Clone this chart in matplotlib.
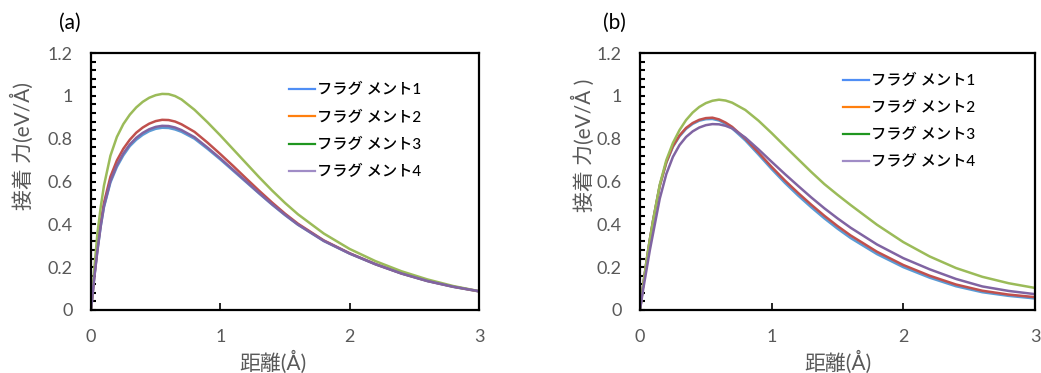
import matplotlib
matplotlib.use("Agg")
import matplotlib.pyplot as plt
from matplotlib.lines import Line2D
from matplotlib.ticker import MultipleLocator

plt.rcParams['font.family'] = ['Lato', 'Noto Sans CJK JP', 'DejaVu Sans']

# distance grid (Å)
dist = [0, 0.025, 0.05, 0.075, 0.1, 0.15, 0.2, 0.25, 0.3, 0.35, 0.4, 0.45, 0.5, 0.55, 0.6,
        0.65, 0.7, 0.8, 0.9, 1.0, 1.1, 1.2, 1.3, 1.4, 1.5, 1.6, 1.8, 2.0, 2.2, 2.4, 2.6,
        2.8, 3.0]

# panel (a) adhesion force (eV/Å)
a_frag1 = [0, 0.15, 0.28, 0.39, 0.48, 0.595, 0.668, 0.722, 0.765, 0.795, 0.818, 0.835, 0.846,
           0.851, 0.850, 0.843, 0.832, 0.800, 0.753, 0.703, 0.650, 0.597, 0.544, 0.492, 0.443,
           0.398, 0.322, 0.263, 0.213, 0.170, 0.135, 0.108, 0.087]
a_frag2 = [0, 0.155, 0.29, 0.405, 0.50, 0.622, 0.698, 0.753, 0.795, 0.828, 0.852, 0.870, 0.882,
           0.888, 0.887, 0.880, 0.867, 0.832, 0.782, 0.728, 0.672, 0.614, 0.557, 0.502, 0.450,
           0.403, 0.325, 0.265, 0.214, 0.171, 0.136, 0.109, 0.087]
a_frag3 = [0, 0.19, 0.36, 0.48, 0.58, 0.72, 0.808, 0.868, 0.912, 0.946, 0.972, 0.991, 1.003,
           1.009, 1.008, 0.999, 0.983, 0.935, 0.877, 0.815, 0.750, 0.685, 0.620, 0.558, 0.500,
           0.447, 0.357, 0.285, 0.228, 0.181, 0.143, 0.112, 0.088]
a_frag4 = [0, 0.15, 0.28, 0.392, 0.484, 0.602, 0.676, 0.731, 0.773, 0.804, 0.827, 0.844, 0.855,
           0.860, 0.859, 0.852, 0.840, 0.807, 0.759, 0.708, 0.654, 0.600, 0.546, 0.494, 0.445,
           0.399, 0.323, 0.264, 0.214, 0.171, 0.136, 0.109, 0.088]

# panel (b)
b_frag1 = [0, 0.12, 0.23, 0.33, 0.42, 0.58, 0.688, 0.762, 0.811, 0.846, 0.869, 0.884, 0.891,
           0.892, 0.885, 0.869, 0.848, 0.792, 0.726, 0.658, 0.594, 0.535, 0.480, 0.428, 0.380,
           0.336, 0.261, 0.200, 0.151, 0.111, 0.083, 0.066, 0.054]
b_frag2 = [0, 0.12, 0.23, 0.33, 0.42, 0.58, 0.69, 0.765, 0.815, 0.850, 0.873, 0.888, 0.896,
           0.898, 0.890, 0.875, 0.855, 0.800, 0.735, 0.668, 0.605, 0.547, 0.492, 0.440, 0.392,
           0.348, 0.272, 0.210, 0.160, 0.119, 0.090, 0.072, 0.060]
b_frag3 = [0, 0.12, 0.23, 0.33, 0.42, 0.585, 0.70, 0.78, 0.84, 0.887, 0.922, 0.948, 0.966,
           0.977, 0.982, 0.978, 0.968, 0.934, 0.884, 0.826, 0.765, 0.705, 0.645, 0.588, 0.538,
           0.490, 0.398, 0.317, 0.250, 0.196, 0.155, 0.125, 0.103]
b_frag4 = [0, 0.10, 0.19, 0.28, 0.36, 0.52, 0.635, 0.715, 0.770, 0.808, 0.834, 0.852, 0.863,
           0.868, 0.867, 0.860, 0.848, 0.805, 0.750, 0.692, 0.635, 0.580, 0.526, 0.475, 0.428,
           0.384, 0.306, 0.242, 0.190, 0.145, 0.110, 0.089, 0.074]

labels = ['フラグ メント1', 'フラグ メント2', 'フラグ メント3', 'フラグ メント4']
curve_colors = ['#5b9bd5', '#c0504d', '#9bbb59', '#8064a2']
legend_colors = ['#4f8ef5', '#ff7f0e', '#1f961f', '#a08cc6']

grey = '#595959'

fig = plt.figure(figsize=(10.41, 3.73), dpi=100)
ax_a = fig.add_axes([91 / 1041, 1 - 310 / 373, 388 / 1041, 257 / 373])
ax_b = fig.add_axes([640 / 1041, 1 - 310 / 373, 395 / 1041, 257 / 373])

panels = [
    (ax_a, [a_frag1, a_frag2, a_frag3, a_frag4], '(a)', '接着 力(eV/Å)', (0.51, 0.882), 0.469),
    (ax_b, [b_frag1, b_frag2, b_frag3, b_frag4], '(b)', '接着 力(eV/Å )', (0.514, 0.919), 0.5),
]

for ax, series, tag, ylab, leg_pos, xl_x in panels:
    for vals, c in zip(series, curve_colors):
        ax.plot(dist, vals, color=c, lw=1.8, solid_capstyle='round', solid_joinstyle='round')
    ax.set_xlim(0, 3)
    ax.set_ylim(0, 1.2)
    ax.xaxis.set_major_locator(MultipleLocator(1))
    ax.yaxis.set_minor_locator(MultipleLocator(0.04))
    ax.set_yticks([0, 0.2, 0.4, 0.6, 0.8, 1.0, 1.2])
    ax.set_yticklabels(['0', '0.2', '0.4', '0.6', '0.8', '1', '1.2'])
    ax.tick_params(axis='y', which='both', direction='in', length=3.5, width=1.5,
                   labelsize=13, labelcolor=grey, pad=13)
    ax.tick_params(axis='x', which='major', direction='in', length=5, width=1.2,
                   labelsize=13, labelcolor=grey, pad=14)
    for sp in ax.spines.values():
        sp.set_linewidth(1.6)
        sp.set_color('black')

    ax.set_ylabel(ylab, fontsize=15, color=grey)
    ax.yaxis.label.set_va('center')
    ax.set_xlabel('距離(Å)', fontsize=15, color=grey)
    ax.xaxis.label.set_va('center')
    ax.xaxis.set_label_coords(xl_x, -0.205)

    handles = [Line2D([], [], color=c, lw=1.6) for c in legend_colors]
    ax.legend(handles, labels, loc='upper left', bbox_to_anchor=leg_pos, frameon=False,
              prop={'size': 11, 'weight': 'medium'}, handlelength=1.7, handletextpad=0.15,
              labelspacing=0.85, borderpad=0, borderaxespad=0)

    ax.text(0, 0, tag, transform=ax.transAxes, fontsize=15, color='black',
            ha='center', va='center')

ax_a.yaxis.set_label_coords(-(91 - 22) / 388, 0.64)
ax_b.yaxis.set_label_coords(-(640 - 583) / 395, 0.64)
ax_a.texts[0].set_position((-(91 - 70) / 388, (310 - 23) / 257))
ax_b.texts[0].set_position((-(640 - 614) / 395, (310 - 23) / 257))

fig.savefig('out.png', dpi=100)
